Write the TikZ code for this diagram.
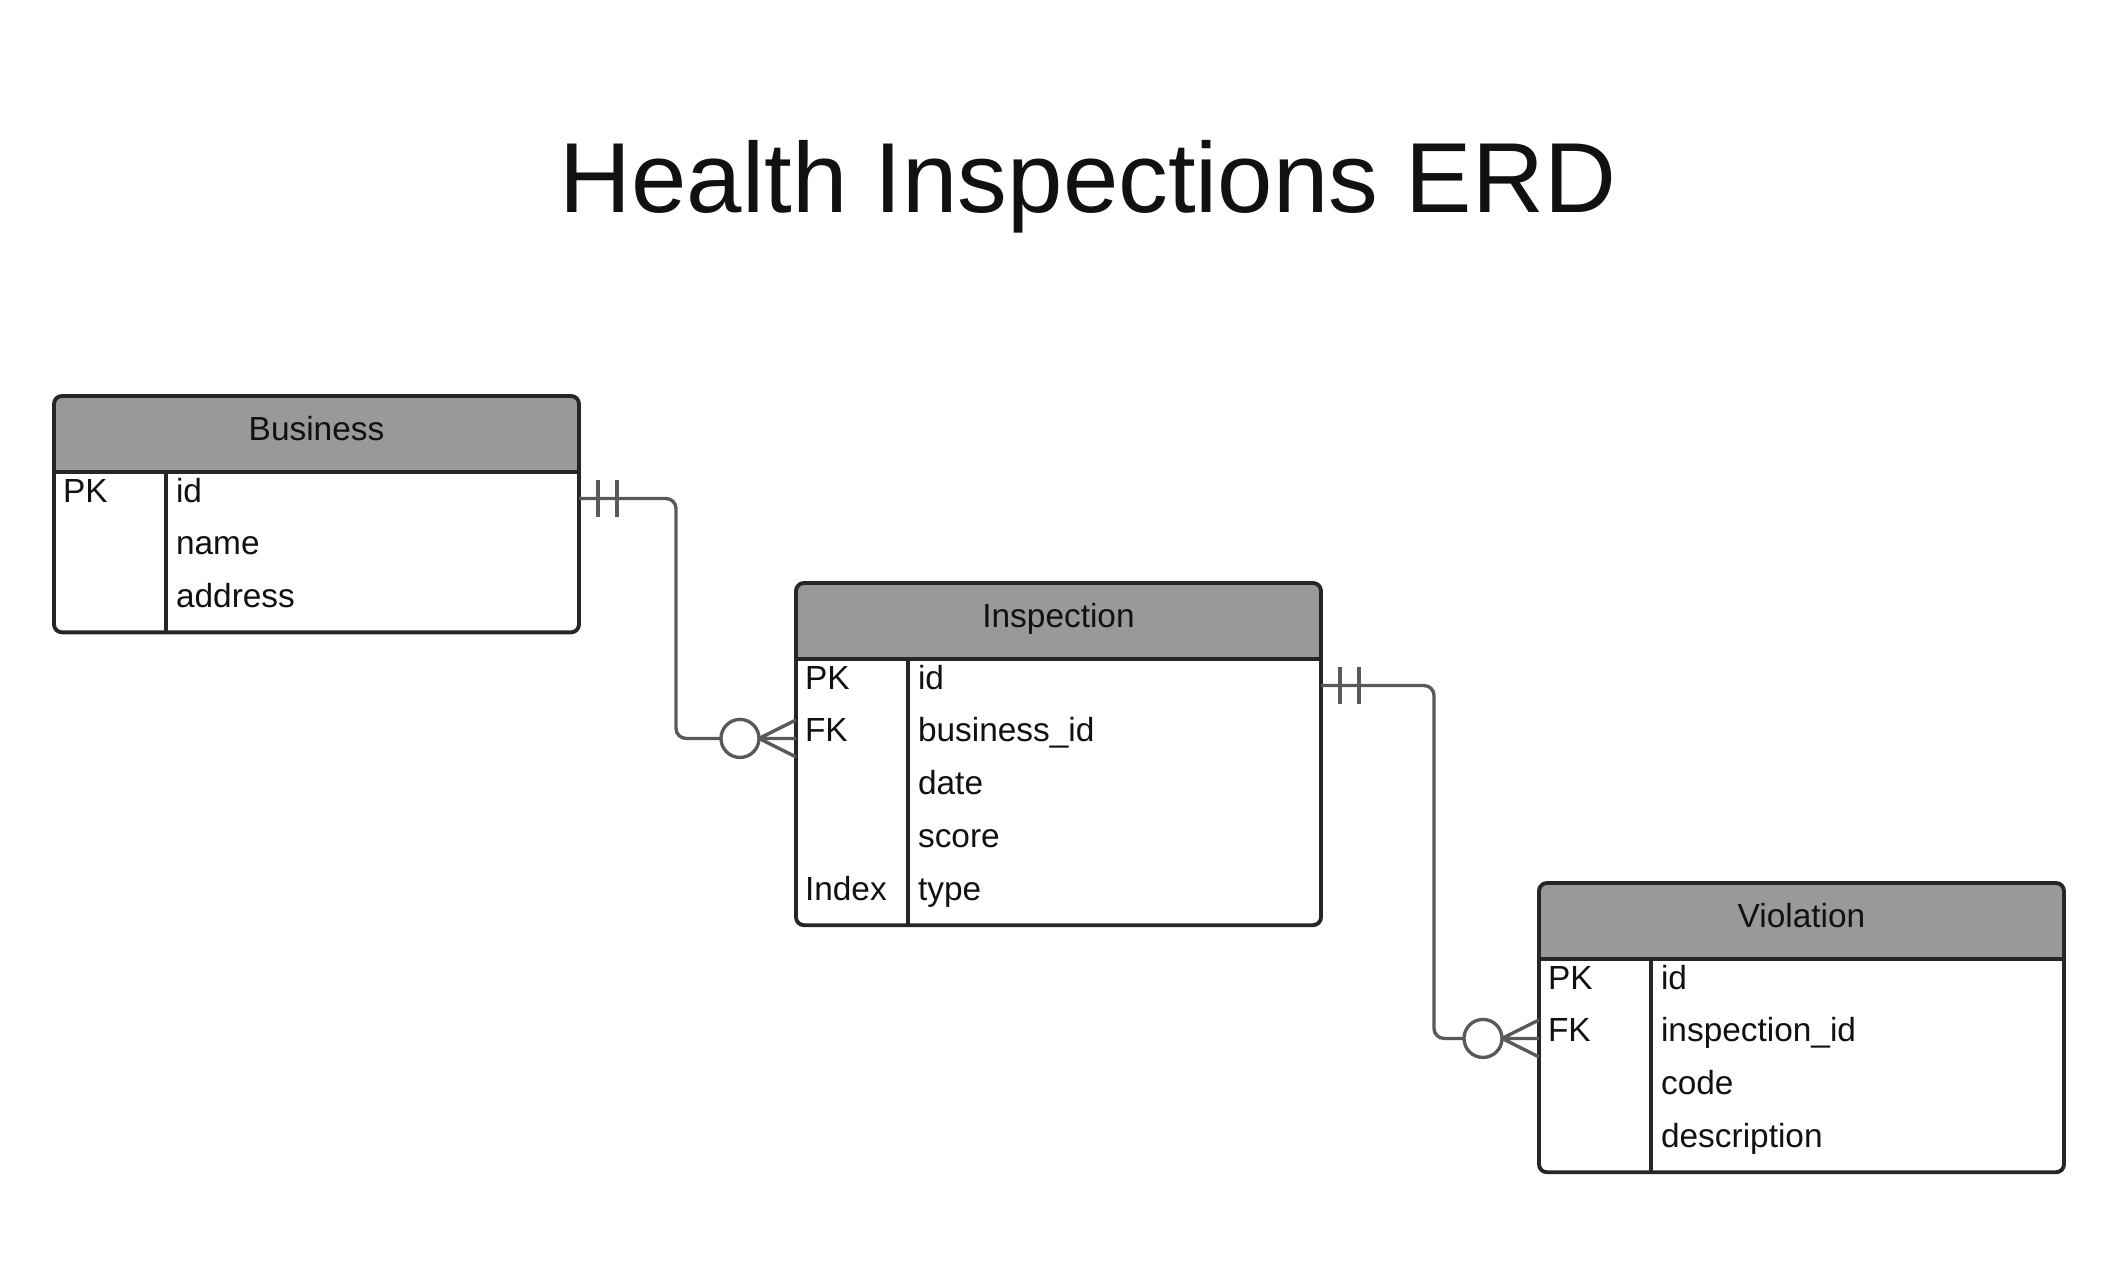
\documentclass[tikz,border=0pt]{standalone}
\usepackage{fontspec}
\setmainfont{Liberation Sans}
\usepackage{tikz}
\usetikzlibrary{calc,positioning}
\definecolor{headgray}{RGB}{153,153,153}
\definecolor{boxline}{RGB}{38,38,38}
\definecolor{relline}{RGB}{89,89,89}
\definecolor{inktext}{RGB}{17,17,17}

\begin{document}
\begin{tikzpicture}[x=0.01cm, y=-0.01cm,
  every node/.style={font=\fontsize{9.5}{11}\selectfont, text=inktext, inner sep=0pt, outer sep=0pt},
  table/.style={draw=boxline, line width=1.1pt, rounded corners=0.08cm, fill=white,
    minimum width=5.247cm, anchor=north west,
    path picture={\fill[headgray, sharp corners] (path picture bounding box.north west) rectangle ([yshift=-0.76cm]path picture bounding box.north east);}},
  headtext/.style={anchor=base, yshift=-0.445cm},
  sep/.style={draw=boxline, line width=1.1pt},
  rel/.style={draw=relline, line width=0.95pt},
  keytext/.style={anchor=base west, xshift=0.09cm, yshift=-0.035cm},
  fieldtext/.style={anchor=base west, xshift=1.22cm, yshift=-0.035cm}]
\useasboundingbox (0,0) rectangle (2126,1264);

\node[font=\fontsize{28.3}{34}\selectfont, anchor=base] (title) at (1088,213) {Health Inspections ERD};

% Business
\node[table, minimum height=2.362cm] (biz) at (54,396) {};
\node[headtext] (biz-name) at (biz.north) {Business};
\draw[sep] ([yshift=-0.76cm]biz.north west) -- ([yshift=-0.76cm]biz.north east);
\draw[sep] ([xshift=1.12cm, yshift=-0.76cm]biz.north west) -- ([xshift=1.12cm]biz.south west);
\foreach \k/\f [count=\i] in {PK/id, /name, /address} {
  \coordinate (biz-r\i) at ([yshift=-0.76cm-(\i-0.5)*0.529cm]biz.north west);
  \node[keytext] at (biz-r\i) {\k};
  \node[fieldtext] at (biz-r\i) {\f};
}

% Inspection
\node[table, minimum height=3.42cm] (insp) at (796,583) {};
\node[headtext] (insp-name) at (insp.north) {Inspection};
\draw[sep] ([yshift=-0.76cm]insp.north west) -- ([yshift=-0.76cm]insp.north east);
\draw[sep] ([xshift=1.12cm, yshift=-0.76cm]insp.north west) -- ([xshift=1.12cm]insp.south west);
\foreach \k/\f [count=\i] in {PK/id, FK/business\_id, /date, /score, Index/type} {
  \coordinate (insp-r\i) at ([yshift=-0.76cm-(\i-0.5)*0.529cm]insp.north west);
  \node[keytext] at (insp-r\i) {\k};
  \node[fieldtext] at (insp-r\i) {\f};
}

% Violation
\node[table, minimum height=2.891cm] (viol) at (1539,883) {};
\node[headtext] (viol-name) at (viol.north) {Violation};
\draw[sep] ([yshift=-0.76cm]viol.north west) -- ([yshift=-0.76cm]viol.north east);
\draw[sep] ([xshift=1.12cm, yshift=-0.76cm]viol.north west) -- ([xshift=1.12cm]viol.south west);
\foreach \k/\f [count=\i] in {PK/id, FK/inspection\_id, /code, /description} {
  \coordinate (viol-r\i) at ([yshift=-0.76cm-(\i-0.5)*0.529cm]viol.north west);
  \node[keytext] at (viol-r\i) {\k};
  \node[fieldtext] at (viol-r\i) {\f};
}

% one business -- many inspections
\draw[rel, rounded corners=0.1cm] (biz.east |- biz-r1) -- ++(97,0) |- ($(insp-r2)+(-75,0)$);
\draw[rel] ($(biz.east |- biz-r1)+(19,-18.5)$) -- ++(0,37) ($(biz.east |- biz-r1)+(38,-18.5)$) -- ++(0,37);
\draw[rel] ($(insp-r2)+(-56,0)$) circle[radius=0.19cm];
\draw[rel] ($(insp-r2)+(-37,0)$) -- (insp-r2) ($(insp-r2)+(-37,0)$) -- ++(37,-18.5) ($(insp-r2)+(-37,0)$) -- ++(37,18.5);

% one inspection -- many violations
\draw[rel, rounded corners=0.1cm] (insp.east |- insp-r1) -- ++(113,0) |- ($(viol-r2)+(-75,0)$);
\draw[rel] ($(insp.east |- insp-r1)+(19,-18.5)$) -- ++(0,37) ($(insp.east |- insp-r1)+(38,-18.5)$) -- ++(0,37);
\draw[rel] ($(viol-r2)+(-56,0)$) circle[radius=0.19cm];
\draw[rel] ($(viol-r2)+(-37,0)$) -- (viol-r2) ($(viol-r2)+(-37,0)$) -- ++(37,-18.5) ($(viol-r2)+(-37,0)$) -- ++(37,18.5);
\end{tikzpicture}
\end{document}
